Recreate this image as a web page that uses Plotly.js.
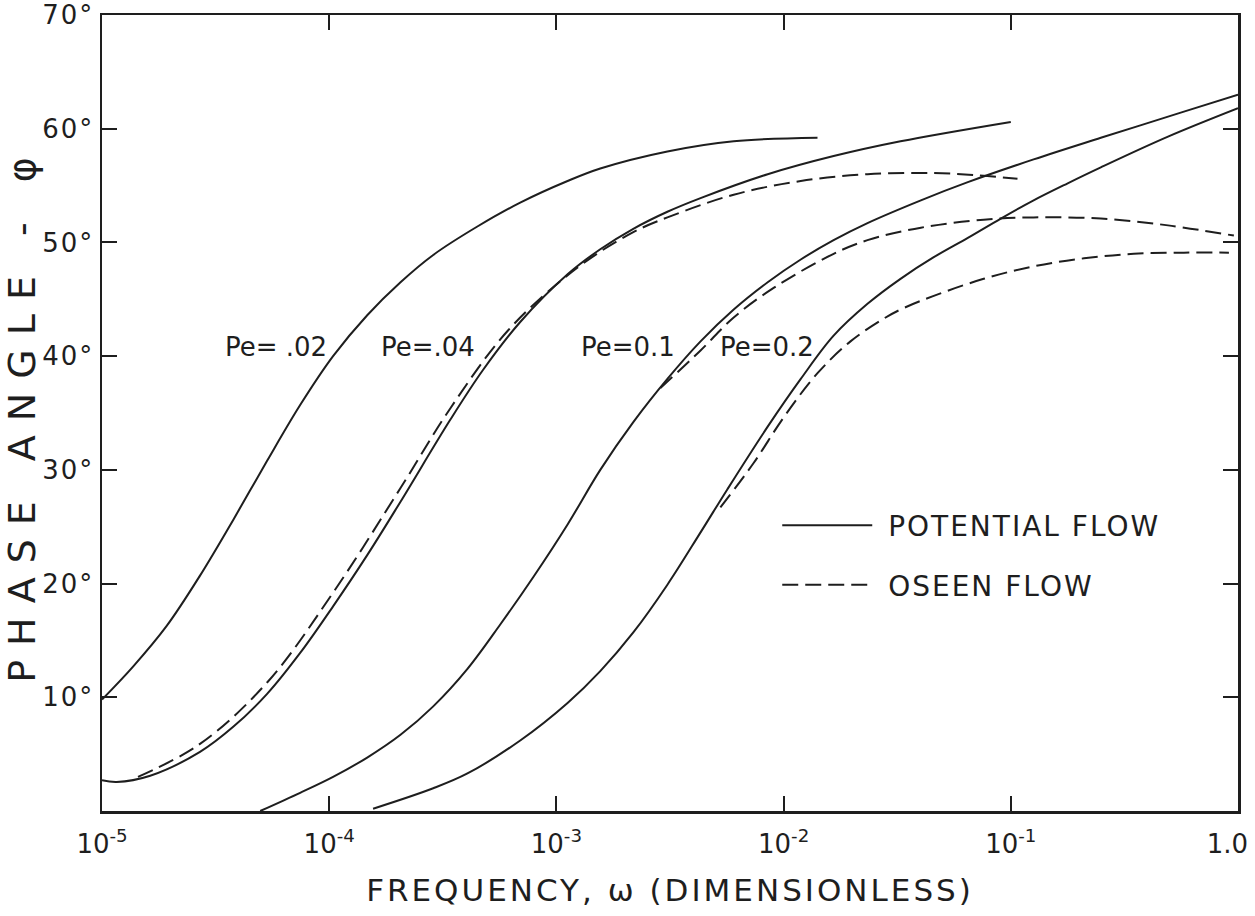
<!DOCTYPE html>
<html><head><meta charset="utf-8">
<script src="https://cdn.plot.ly/plotly-3.0.1.min.js"></script>
<style>
html,body{margin:0;padding:0;background:#fff;}
#chart{width:1255px;height:916px;}
.xtitle{letter-spacing:3px;}
.ytitle{letter-spacing:14px;}
.legendtext{letter-spacing:2px;}
.ytick text{letter-spacing:2px;}
</style>
</head><body><div id="chart"></div>
<script>
// Pe = .02, potential flow
const freqPe002 = [1.00e-5,1.37e-5,1.93e-5,2.70e-5,3.78e-5,5.33e-5,7.45e-5,1.04e-4,1.47e-4,2.06e-4,2.87e-4,4.49e-4,6.93e-4,1.12e-3,1.56e-3,3.08e-3,6.03e-3,1.41e-2];
const phasePe002 = [9.8,12.7,16.3,20.7,25.6,30.8,35.7,40.0,43.6,46.5,48.9,51.4,53.5,55.4,56.5,58.0,58.9,59.2];

// Pe = .04, potential flow
const freqPe004 = [1.00e-5,1.16e-5,1.63e-5,2.70e-5,3.78e-5,5.33e-5,7.45e-5,1.04e-4,1.47e-4,2.06e-4,3.41e-4,4.76e-4,6.93e-4,1.12e-3,1.56e-3,2.18e-3,3.08e-3,4.31e-3,8.51e-3,1.66e-2,3.27e-2,1.00e-1];
const phasePe004 = [2.7,2.55,3.1,5.2,7.4,10.3,13.9,18.0,22.5,27.2,34.4,38.8,43.0,47.2,49.4,51.2,52.7,53.9,56.0,57.6,58.9,60.6];
// Pe = .04, Oseen flow
const freqPe004o = [1.44e-5,2.70e-5,5.33e-5,1.04e-4,2.06e-4,3.41e-4,6.15e-4,1.24e-3,2.18e-3,3.08e-3,6.03e-3,1.19e-2,2.34e-2,4.58e-2,7.16e-2,1.07e-1];
const phasePe004o = [3.0,5.9,11.3,19.2,28.4,35.4,42.3,47.8,50.9,52.2,54.2,55.4,56.0,56.1,55.9,55.6];

// Pe = 0.1, potential flow
const freqPe01 = [4.97e-5,7.45e-5,1.04e-4,1.47e-4,2.06e-4,2.87e-4,4.06e-4,5.66e-4,7.93e-4,1.12e-3,1.56e-3,2.18e-3,3.08e-3,4.31e-3,6.03e-3,8.51e-3,1.19e-2,1.66e-2,2.34e-2,4.02e-2,6.47e-2,1.26e-1,2.49e-1,5.78e-1,1.0];
const phasePe01 = [0.0,1.6,3.0,4.7,6.7,9.2,12.5,16.4,20.6,25.2,30.0,34.2,38.0,41.3,44.1,46.5,48.5,50.2,51.7,53.7,55.3,57.3,59.2,61.5,63.0];
// Pe = 0.1, Oseen flow
const freqPe01o = [2.87e-3,4.31e-3,6.03e-3,9.04e-3,1.66e-2,2.34e-2,4.02e-2,7.60e-2,1.26e-1,2.49e-1,4.92e-1,9.59e-1];
const phasePe01o = [37.2,40.5,43.4,46.0,49.0,50.2,51.3,52.0,52.2,52.1,51.5,50.6];

// Pe = 0.2, potential flow
const freqPe02 = [1.56e-4,2.87e-4,4.06e-4,6.93e-4,1.12e-3,1.56e-3,2.18e-3,3.08e-3,4.31e-3,5.66e-3,8.51e-3,1.19e-2,1.66e-2,2.34e-2,3.27e-2,4.58e-2,6.47e-2,9.04e-2,1.26e-1,1.78e-1,2.49e-1,4.92e-1,1.0];
const phasePe02 = [0.2,2.0,3.3,6.2,9.5,12.3,15.7,19.9,24.5,28.3,33.8,38.0,41.8,44.6,46.8,48.7,50.4,52.1,53.7,55.2,56.6,59.3,61.8];
// Pe = 0.2, Oseen flow
const freqPe02o = [5.27e-3,7.38e-3,1.00e-2,1.41e-2,1.97e-2,2.76e-2,3.27e-2,4.58e-2,7.60e-2,1.26e-1,2.10e-1,3.48e-1,5.78e-1,9.12e-1];
const phasePe02o = [26.7,30.6,34.6,38.5,41.3,43.3,44.1,45.3,46.8,47.9,48.6,49.0,49.1,49.1];

// Curve labels
const labelText = ['Pe= .02','Pe=.04','Pe=0.1','Pe=0.2'];
const labelFreq = [5.85e-5,2.73e-4,2.06e-3,8.41e-3];
const labelPhase = [40.8,40.8,40.8,40.8];

// Axis ticks
const xTickVals = [1e-5,1e-4,1e-3,1e-2,1e-1,1];
const xTickText = ['10<sup>-5</sup>','10<sup>-4</sup>','10<sup>-3</sup>','10<sup>-2</sup>','10<sup>-1</sup>','1.0'];
const yTickVals = [10,20,30,40,50,60,70];
const yTickText = ['10°','20°','30°','40°','50°','60°','70°'];

const INK = '#1e1e1e';
const FONT = 'DejaVu Sans, Liberation Sans, sans-serif';
const solid = {color: INK, width: 2, shape: 'spline', smoothing: 1};
const dashed = {color: INK, width: 2, dash: '16px,7px', shape: 'spline', smoothing: 1};

function tr(x, y, line, group, name, show) {
  return {type: 'scatter', mode: 'lines', x: x, y: y, line: line,
          legendgroup: group, name: name, showlegend: show, hoverinfo: 'skip'};
}

const NB = '\u00a0';
const data = [
  tr(freqPe002, phasePe002, solid, 'pot', NB + 'POTENTIAL FLOW', true),
  tr(freqPe004, phasePe004, solid, 'pot', 'POTENTIAL FLOW', false),
  tr(freqPe01, phasePe01, solid, 'pot', 'POTENTIAL FLOW', false),
  tr(freqPe02, phasePe02, solid, 'pot', 'POTENTIAL FLOW', false),
  tr(freqPe004o, phasePe004o, dashed, 'os', NB + 'OSEEN FLOW', true),
  tr(freqPe01o, phasePe01o, dashed, 'os', 'OSEEN FLOW', false),
  tr(freqPe02o, phasePe02o, dashed, 'os', 'OSEEN FLOW', false)
];

const annotations = labelText.map((t, i) => ({
  text: t, x: Math.log10(labelFreq[i]), y: labelPhase[i], xref: 'x', yref: 'y',
  showarrow: false, font: {family: FONT, size: 26, color: INK}
}));

const axisCommon = {
  showline: true, linecolor: INK, linewidth: 2.5, mirror: 'ticks',
  ticks: 'inside', ticklen: 15, tickwidth: 2, tickcolor: INK,
  showgrid: false, zeroline: false, ticklabeloverflow: 'allow',
  tickfont: {family: FONT, size: 26, color: INK}
};

const layout = {
  width: 1255, height: 916,
  margin: {l: 102, r: 17, t: 15, b: 105},
  paper_bgcolor: '#ffffff', plot_bgcolor: '#ffffff',
  font: {family: FONT, color: INK},
  xaxis: Object.assign({}, axisCommon, {
    type: 'log', range: [-5, 0], tickvals: xTickVals, ticktext: xTickText,
    ticklabelstandoff: 8,
    title: {text: 'FREQUENCY, ω (DIMENSIONLESS)', font: {family: FONT, size: 31, color: INK}, standoff: 22}
  }),
  yaxis: Object.assign({}, axisCommon, {
    range: [0, 70], tickvals: yTickVals, ticktext: yTickText,
    title: {text: 'PHASE ANGLE - φ' + NB + NB + NB, font: {family: FONT, size: 38, color: INK}, standoff: 0}
  }),
  showlegend: true,
  legend: {
    x: 0.5944, y: 0.39, xanchor: 'left', yanchor: 'top',
    font: {family: FONT, size: 28, color: INK},
    bgcolor: 'rgba(0,0,0,0)', itemwidth: 90, traceorder: 'grouped', tracegroupgap: 20
  },
  annotations: annotations
};

Plotly.newPlot('chart', data, layout, {displayModeBar: false, staticPlot: true}).then(function (gd) {
  // keep the last tick label ("1.0") inside the page, right-aligned near the axis end
  gd.querySelectorAll('.xtick text').forEach(function (t) {
    if (t.textContent === '1.0') {
      t.setAttribute('text-anchor', 'end');
      t.setAttribute('x', String((parseFloat(t.getAttribute('x')) || 0) + 10));
    }
  });
});
</script>
</body></html>
